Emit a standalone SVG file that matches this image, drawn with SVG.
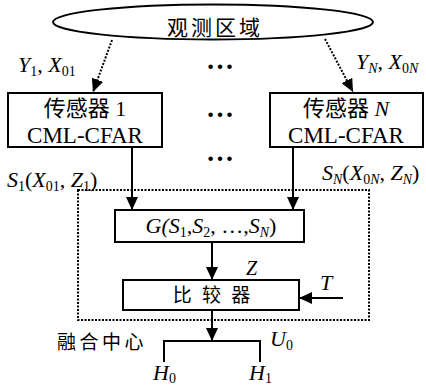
<svg xmlns="http://www.w3.org/2000/svg" width="426" height="387" viewBox="0 0 426 387">
<style>
.cn { font-family: "Noto Sans CJK SC", "Noto Sans CJK TC", sans-serif; fill: #000; }
.m { font-family: "Liberation Serif", "Times New Roman", serif; font-style: italic; fill: #000; }
.rm { font-family: "Liberation Serif", "Times New Roman", serif; font-style: normal; fill: #000; }
.r { font-style: normal; }
.box { fill: #fff; stroke: #000; stroke-width: 2; }
.ln { stroke: #000; stroke-width: 2; fill: none; }
.dt { stroke: #000; stroke-width: 2; stroke-dasharray: 2 1.5; fill: none; }
.dots { font-family: "Liberation Serif", serif; font-weight: bold; font-size: 28px; fill: #000; }
</style>
<defs>
<marker id="ah" markerUnits="userSpaceOnUse" markerWidth="14" markerHeight="12" refX="13" refY="6" orient="auto">
<path d="M0,0 L13,6 L0,12 z" fill="#000"/>
</marker>
</defs>

<g id="region">
<ellipse cx="213" cy="22" rx="160" ry="17.5" class="box"/>
<text class="cn" x="215" y="35" font-size="21" letter-spacing="3" text-anchor="middle">观测区域</text>
</g>

<g id="sensor1">
<rect x="8" y="93" width="154" height="54" class="box"/>
<text x="85" y="116" text-anchor="middle" font-size="22"><tspan class="cn">传感器</tspan><tspan class="rm"> 1</tspan></text>
<text class="rm" x="85" y="143" font-size="23" text-anchor="middle">CML-CFAR</text>
</g>

<g id="sensorN">
<rect x="270" y="93" width="153" height="54" class="box"/>
<text x="346" y="116" text-anchor="middle" font-size="22"><tspan class="cn">传感器</tspan><tspan class="m"> N</tspan></text>
<text class="rm" x="346" y="143" font-size="23" text-anchor="middle">CML-CFAR</text>
</g>

<g id="fusion">
<rect x="78" y="190" width="291" height="130" class="dt"/>
<text class="cn" x="57" y="349" font-size="19" letter-spacing="3.5">融合中心</text>
</g>

<g id="G">
<rect x="115" y="210" width="189" height="32" class="box"/>
<text class="m" x="211" y="233" font-size="22" text-anchor="middle">G(S<tspan class="r" font-size="14" dy="4">1</tspan><tspan dy="-4">,S</tspan><tspan class="r" font-size="14" dy="4">2</tspan><tspan class="r" dy="-4">, …,</tspan>S<tspan font-size="14" dy="4">N</tspan><tspan class="r" dy="-4">)</tspan></text>
</g>

<g id="comparator">
<rect x="123" y="280" width="176" height="30" class="box"/>
<text class="cn" x="213" y="302" font-size="19" text-anchor="middle" letter-spacing="3">比 较 器</text>
</g>

<g id="ellipsis">
<text class="dots" x="220" y="69" text-anchor="middle">…</text>
<text class="dots" x="220" y="117" text-anchor="middle">…</text>
<text class="dots" x="220" y="161" text-anchor="middle">…</text>
</g>

<g id="connectors">
<line x1="112" y1="40" x2="93" y2="92" class="dt" marker-end="url(#ah)"/>
<line x1="325" y1="39" x2="353" y2="92" class="dt" marker-end="url(#ah)"/>
<line x1="132" y1="147" x2="132" y2="210" class="ln" marker-end="url(#ah)"/>
<line x1="293" y1="147" x2="293" y2="210" class="ln" marker-end="url(#ah)"/>
<line x1="212" y1="242" x2="212" y2="280" class="ln" marker-end="url(#ah)"/>
<line x1="343" y1="298" x2="299" y2="298" class="ln" marker-end="url(#ah)"/>
<line x1="212" y1="310" x2="212" y2="341" class="ln" marker-end="url(#ah)"/>
<polyline points="164,362 164,341 260,341 260,362" class="ln"/>
</g>

<g id="labels">
<text class="m" x="18" y="72" font-size="22">Y<tspan class="r" font-size="14" dy="4">1</tspan><tspan class="r" dy="-4">, </tspan>X<tspan class="r" font-size="14" dy="4">01</tspan></text>
<text class="m" x="356" y="69" font-size="22">Y<tspan font-size="14" dy="4">N</tspan><tspan class="r" dy="-4">, </tspan>X<tspan font-size="14" dy="4"><tspan class="r">0</tspan>N</tspan></text>
<text class="m" x="7" y="187" font-size="22">S<tspan class="r" font-size="14" dy="4">1</tspan><tspan class="r" dy="-4">(</tspan>X<tspan class="r" font-size="14" dy="4">01</tspan><tspan class="r" dy="-4">, </tspan>Z<tspan class="r" font-size="14" dy="4">1</tspan><tspan class="r" dy="-4">)</tspan></text>
<text class="m" x="322" y="180" font-size="22">S<tspan font-size="14" dy="4">N</tspan><tspan class="r" dy="-4">(</tspan>X<tspan font-size="14" dy="4"><tspan class="r">0</tspan>N</tspan><tspan class="r" dy="-4">, </tspan>Z<tspan font-size="14" dy="4">N</tspan><tspan class="r" dy="-4">)</tspan></text>
<text class="m" x="246" y="275" font-size="20">Z</text>
<text class="m" x="320" y="290" font-size="22">T</text>
<text class="m" x="270" y="346" font-size="22">U<tspan class="r" font-size="14" dy="4">0</tspan></text>
<text class="m" x="153" y="380" font-size="22">H<tspan class="r" font-size="14" dy="3">0</tspan></text>
<text class="m" x="249" y="380" font-size="22">H<tspan class="r" font-size="14" dy="3">1</tspan></text>
</g>
</svg>
